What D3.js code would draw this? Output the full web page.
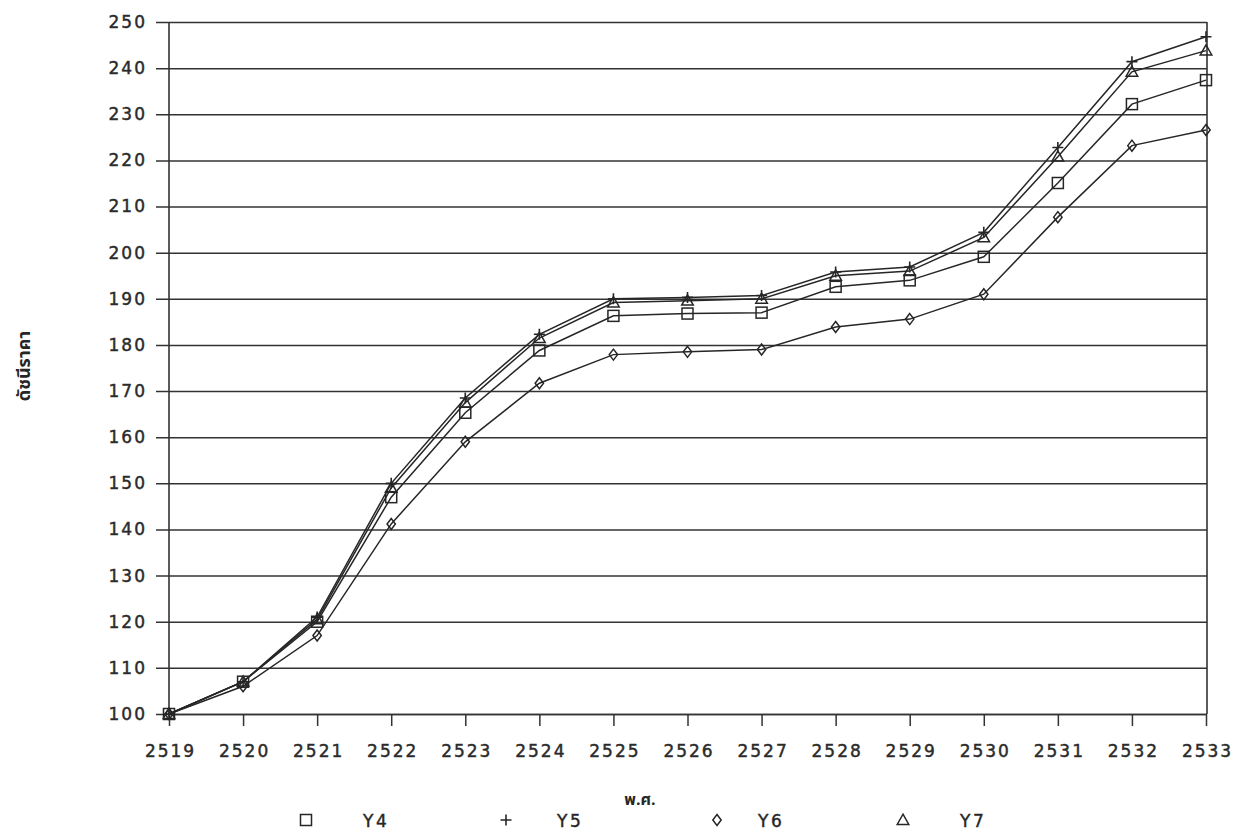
<!DOCTYPE html>
<html>
<head>
<meta charset="utf-8">
<script src="https://cdn.jsdelivr.net/npm/d3@7/dist/d3.min.js"></script>
<style>
  html, body { margin: 0; padding: 0; background: #ffffff; }
  svg { display: block; }
  .tick text { font-family: "DejaVu Sans", Verdana, sans-serif; font-size: 17px; fill: #2b2b2b; stroke: #2b2b2b; stroke-width: 0.45px; letter-spacing: 2px; }
</style>
</head>
<body>
<svg id="chart" width="1234" height="833"></svg>
<script>
// ---- data ----
const years = [2519, 2520, 2521, 2522, 2523, 2524, 2525, 2526, 2527, 2528, 2529, 2530, 2531, 2532, 2533];
const Y4 = [100, 107, 120, 147, 165.3, 178.8, 186.3, 186.8, 187, 192.6, 194, 199.1, 215.1, 232.2, 237.4];
const Y5 = [100, 107, 121, 150, 168.5, 182.3, 190, 190.3, 190.7, 195.8, 196.9, 204.4, 222.8, 241.4, 246.8];
const Y6 = [100, 106, 117, 141.2, 159, 171.7, 177.9, 178.5, 179, 183.9, 185.6, 191, 207.7, 223.2, 226.6];
const Y7 = [100, 107, 120.5, 149, 167.5, 181.5, 189.2, 189.6, 190, 195, 196, 203.3, 220.8, 239.2, 243.8];
const seriesNames = ["Y4", "Y5", "Y6", "Y7"];
const yTicks = [100, 110, 120, 130, 140, 150, 160, 170, 180, 190, 200, 210, 220, 230, 240, 250];
const yTitle = "ดัชนีราคา";
const xTitle = "พ.ศ.";

const series = [
  { name: seriesNames[0], values: Y4, shape: "square" },
  { name: seriesNames[1], values: Y5, shape: "plus" },
  { name: seriesNames[2], values: Y6, shape: "diamond" },
  { name: seriesNames[3], values: Y7, shape: "triangle" }
];

const svg = d3.select("#chart");
const ink = "#262626";

const x = d3.scaleLinear().domain([2519, 2533]).range([169, 1206]);
const y = d3.scaleLinear().domain([100, 250]).range([714, 22]);
const right = 1207;

// y axis with gridlines
const yAxis = d3.axisLeft(y).tickValues(yTicks).tickFormat(d3.format("d"))
  .tickSize(-(right - 156)).tickPadding(11);
const gy = svg.append("g").attr("transform", "translate(156,0)").call(yAxis);
gy.select(".domain").remove();
gy.selectAll(".tick line").attr("stroke", "#333").attr("stroke-width", 1.5);
gy.selectAll(".tick text").attr("dx", "2px");

// x axis
const xAxis = d3.axisBottom(x).tickValues(years).tickFormat(d3.format("d"))
  .tickSizeInner(12).tickSizeOuter(0).tickPadding(19);
const gx = svg.append("g").attr("transform", "translate(0,714)").call(xAxis);
gx.select(".domain").attr("stroke", "#333").attr("stroke-width", 1.5);
gx.selectAll(".tick line").attr("stroke", "#333").attr("stroke-width", 1.5);
gx.selectAll(".tick text").attr("dx", "1px");

// frame lines
svg.append("line").attr("x1", x(2519)).attr("x2", x(2519)).attr("y1", y(250)).attr("y2", y(100))
  .attr("stroke", "#333").attr("stroke-width", 1.6);
svg.append("line").attr("x1", right).attr("x2", right).attr("y1", y(250)).attr("y2", y(100))
  .attr("stroke", "#333").attr("stroke-width", 1.6);

// symbols
function drawSymbol(g, shape, cx, cy, s) {
  const h = s / 2;
  if (shape === "square") {
    g.append("rect").attr("x", cx - h).attr("y", cy - h).attr("width", s).attr("height", s)
      .attr("fill", "none").attr("stroke", ink).attr("stroke-width", 1.5);
  } else if (shape === "plus") {
    g.append("path").attr("d", `M${cx - h},${cy}H${cx + h}M${cx},${cy - h}V${cy + h}`)
      .attr("fill", "none").attr("stroke", ink).attr("stroke-width", 1.6);
  } else if (shape === "diamond") {
    const w = s * 0.38, t = s * 0.5;
    g.append("path").attr("d", `M${cx},${cy - t}L${cx + w},${cy}L${cx},${cy + t}L${cx - w},${cy}Z`)
      .attr("fill", "none").attr("stroke", ink).attr("stroke-width", 1.5);
  } else if (shape === "triangle") {
    g.append("path").attr("d", `M${cx},${cy - h * 1.05}L${cx + h * 1.05},${cy + h * 0.8}L${cx - h * 1.05},${cy + h * 0.8}Z`)
      .attr("fill", "none").attr("stroke", ink).attr("stroke-width", 1.5);
  }
}

const line = d3.line().x((d, i) => x(years[i])).y(d => y(d));
series.forEach(s => {
  svg.append("path").datum(s.values).attr("d", line)
    .attr("fill", "none").attr("stroke", ink).attr("stroke-width", 1.5);
  const g = svg.append("g");
  s.values.forEach((v, i) => drawSymbol(g, s.shape, x(years[i]), y(v), 11));
});

// axis titles
svg.append("text").attr("x", 640).attr("y", 805).attr("text-anchor", "middle")
  .attr("font-family", "'Noto Sans Thai', 'Noto Sans', 'DejaVu Sans', sans-serif")
  .attr("font-size", 16).attr("font-weight", "bold").attr("fill", ink).text(xTitle);
svg.append("text").attr("transform", "translate(30,366) rotate(-90)").attr("text-anchor", "middle")
  .attr("font-family", "'Noto Sans Thai', 'Noto Sans', 'DejaVu Sans', sans-serif")
  .attr("font-size", 18).attr("font-weight", "bold").attr("fill", ink).text(yTitle);

// legend
const legendSym = [306, 506, 717, 903];
const legendTxt = [363, 557, 758, 960];
series.forEach((s, i) => {
  const g = svg.append("g");
  drawSymbol(g, s.shape, legendSym[i], 820, 11);
  svg.append("text").attr("x", legendTxt[i]).attr("y", 827)
    .attr("font-family", "'DejaVu Sans', Verdana, sans-serif").attr("font-size", 17)
    .attr("letter-spacing", "2.5px").attr("fill", ink).attr("stroke", ink).attr("stroke-width", 0.4)
    .text(s.name);
});
</script>
</body>
</html>
